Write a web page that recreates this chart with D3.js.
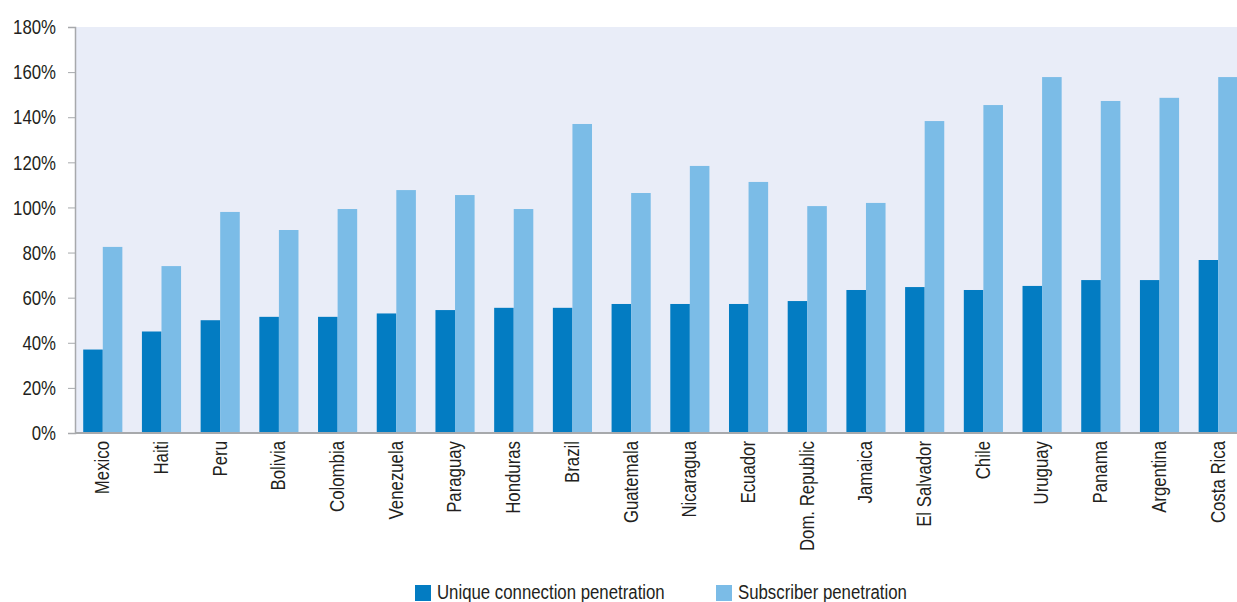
<!DOCTYPE html>
<html><head><meta charset="utf-8">
<script src="https://cdn.jsdelivr.net/npm/d3@7"></script>
<style>
body{margin:0;background:#fff;}
svg text{font-family:"Liberation Sans",Arial,sans-serif;fill:#231f20;}
</style></head>
<body><svg id="c" width="1237" height="602"></svg>
<script>
const categories = ["Mexico","Haiti","Peru","Bolivia","Colombia","Venezuela","Paraguay","Honduras","Brazil","Guatemala","Nicaragua","Ecuador","Dom. Republic","Jamaica","El Salvador","Chile","Uruguay","Panama","Argentina","Costa Rica"];
const uniquePen = [37,45,50,51.5,51.5,53,54.5,55.5,55.5,57.2,57.2,57.2,58.5,63.4,64.7,63.4,65.2,67.8,67.8,76.7];
const subscriberPen = [82.5,74,98,90,99.3,107.7,105.5,99.3,137,106.4,118.4,111.3,100.6,102,138.3,145.4,157.8,147.2,148.6,157.8];
const yTicks = [0,20,40,60,80,100,120,140,160,180];
const seriesNames = ["Unique connection penetration","Subscriber penetration"];
const colors = ["#037cc2","#7bbce7"];

const sx = 0.8; // horizontal condensing of text
const fs = 21;
const svg = d3.select("#c");
const mLeft = 75, mRight = 1246, mTop = 27, mBottom = 433;
const x = d3.scaleBand().domain(categories).range([mLeft, mRight]).paddingInner(1/3).paddingOuter(0.14);
const xs = d3.scaleBand().domain([0,1]).range([0, x.bandwidth()]);
const y = d3.scaleLinear().domain([0,180]).range([mBottom, mTop]);

svg.append("rect").attr("x", mLeft).attr("y", mTop).attr("width", 1237-mLeft).attr("height", mBottom-mTop).attr("fill","#e9edf8");

const series = [uniquePen, subscriberPen];
series.forEach((vals, si) => {
  svg.append("g").selectAll("rect").data(categories).join("rect")
    .attr("x", d => x(d) + xs(si))
    .attr("width", xs.bandwidth())
    .attr("y", (d,i) => y(vals[i]))
    .attr("height", (d,i) => mBottom - y(vals[i]))
    .attr("fill", colors[si]);
});

// Y axis
const ya = svg.append("g").attr("transform", `translate(${mLeft},0)`)
  .call(d3.axisLeft(y).tickValues(yTicks).tickFormat(d => d + "%").tickSize(7).tickPadding(12));
ya.select(".domain").attr("stroke","#a7a9ac").attr("stroke-width",1.5);
ya.selectAll(".tick line").attr("stroke","#a7a9ac");
ya.selectAll(".tick text").attr("font-size",fs).attr("fill","#231f20")
  .attr("x", -19/sx).attr("transform", `scale(${sx},1)`);

// X axis
const xa = svg.append("g").attr("transform", `translate(0,${mBottom})`)
  .call(d3.axisBottom(x).tickSize(0).tickPadding(0));
xa.select(".domain").remove();
svg.append("line").attr("x1", mLeft).attr("x2", 1237).attr("y1", mBottom).attr("y2", mBottom)
  .attr("stroke","#a7a9ac").attr("stroke-width",2);
xa.selectAll(".tick text")
  .attr("font-size",fs).attr("fill","#231f20")
  .attr("text-anchor","end")
  .attr("transform",`rotate(-90) scale(${sx},1)`)
  .attr("x",-8/sx).attr("y",-1).attr("dy","0.35em");

// Legend
const legX = [415, 716];
seriesNames.forEach((n, i) => {
  svg.append("rect").attr("x", legX[i]).attr("y", 585).attr("width",16).attr("height",16).attr("fill", colors[i]);
  svg.append("text").attr("x", (legX[i] + 22)/sx).attr("y", 599).attr("font-size",fs)
    .attr("transform", `scale(${sx},1)`).text(n);
});
</script></body></html>
